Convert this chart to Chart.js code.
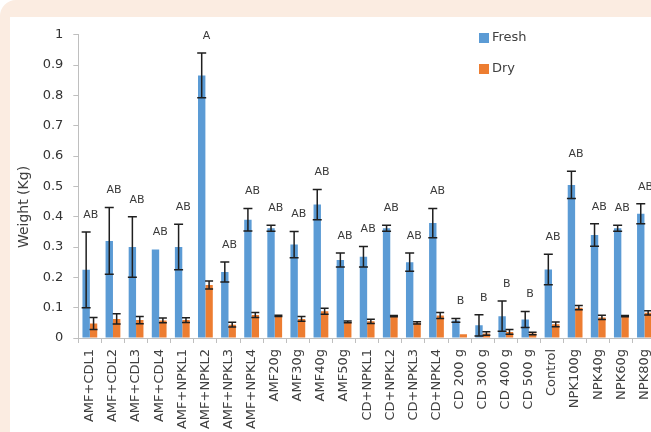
<!DOCTYPE html>
<html><head><meta charset="utf-8">
<script src="https://cdn.jsdelivr.net/npm/chart.js@4/dist/chart.umd.min.js"></script>
<style>
html,body{margin:0;padding:0;background:#fff;overflow:hidden;width:651px;height:432px;}
#frame{position:absolute;left:0;top:0;width:720px;height:500px;background:#fbece1;border-top-left-radius:16px;}
#wrap{position:absolute;left:10px;top:17px;width:660px;height:415px;background:#fff;}
canvas{display:block;}
</style></head><body>
<div id="frame"></div>
<div id="wrap"><canvas id="c" width="660" height="415"></canvas></div>
<script>
const categories = ["AMF+CDL1","AMF+CDL2","AMF+CDL3","AMF+CDL4","AMF+NPKL1","AMF+NPKL2","AMF+NPKL3","AMF+NPKL4","AMF20g","AMF30g","AMF40g","AMF50g","CD+NPKL1","CD+NPKL2","CD+NPKL3","CD+NPKL4","CD 200 g","CD 300 g","CD 400 g","CD 500 g","Control","NPK100g","NPK40g","NPK60g","NPK80g"];
const fresh    = [0.225,0.32,0.30,0.292,0.30,0.866,0.218,0.39,0.362,0.308,0.44,0.257,0.268,0.362,0.25,0.379,0.058,0.042,0.072,0.061,0.226,0.505,0.34,0.362,0.41];
const freshErr = [0.125,0.11,0.10,0,0.075,0.074,0.033,0.037,0.01,0.043,0.05,0.023,0.034,0.01,0.03,0.048,0.006,0.035,0.05,0.026,0.05,0.045,0.037,0.01,0.033];
const dry      = [0.048,0.063,0.059,0.058,0.059,0.175,0.044,0.076,0.073,0.063,0.088,0.053,0.055,0.072,0.05,0.074,0.012,0.015,0.02,0.015,0.045,0.1,0.068,0.072,0.083];
const dryErr   = [0.02,0.017,0.012,0.008,0.008,0.013,0.008,0.008,0.002,0.008,0.01,0.003,0.007,0.002,0.004,0.01,0,0.006,0.008,0.004,0.008,0.007,0.007,0.002,0.007];
const sigLetters = ["AB","AB","AB","AB","AB","A","AB","AB","AB","AB","AB","AB","AB","AB","AB","AB","B","B","B","B","AB","AB","AB","AB","AB"];
const seriesNames = ["Fresh","Dry"];
const yTitle = "Weight (Kg)";

const BLUE = '#5b9bd5', ORANGE = '#ed7d31', AXIS = '#bfbfbf', TXT = '#404040';
const FONT = '"DejaVu Sans"';

const overlay = {
  id: 'overlay',
  afterDatasetsDraw(chart) {
    const ctx = chart.ctx, ys = chart.scales.y;
    const errs = [freshErr, dryErr];
    const caps = [4.5, 4];
    ctx.save();
    ctx.strokeStyle = '#1f1f1f';
    ctx.lineWidth = 1.5;
    chart.data.datasets.forEach((ds, di) => {
      const meta = chart.getDatasetMeta(di);
      meta.data.forEach((bar, i) => {
        const v = ds.data[i], e = errs[di][i];
        if (!e) return;
        const x = bar.x, c = caps[di];
        const yt = ys.getPixelForValue(v + e), yb = ys.getPixelForValue(Math.max(0, v - e));
        ctx.beginPath();
        ctx.moveTo(x, yt); ctx.lineTo(x, yb);
        ctx.moveTo(x - c, yt); ctx.lineTo(x + c, yt);
        ctx.moveTo(x - c, yb); ctx.lineTo(x + c, yb);
        ctx.stroke();
      });
    });
    const m0 = chart.getDatasetMeta(0), m1 = chart.getDatasetMeta(1);
    ctx.font = '11px ' + FONT;
    ctx.fillStyle = '#3a3a3a';
    ctx.textAlign = 'center';
    ctx.textBaseline = 'middle';
    sigLetters.forEach((t, i) => {
      const cx = (m0.data[i].x + m1.data[i].x) / 2 + 1;
      const top = ys.getPixelForValue(fresh[i] + freshErr[i]);
      ctx.fillText(t, cx, top - 17);
    });
    ctx.restore();
  },
  afterDraw(chart) {
    const ctx = chart.ctx;
    ctx.save();
    // legend
    const cols = [BLUE, ORANGE];
    ctx.font = '13px ' + FONT;
    ctx.textAlign = 'left';
    ctx.textBaseline = 'middle';
    seriesNames.forEach((n, i) => {
      const yy = 21 + i * 31;
      ctx.fillStyle = cols[i];
      ctx.fillRect(469, yy - 5, 10, 10);
      ctx.fillStyle = TXT;
      ctx.fillText(n, 482, yy);
    });
    // y title
    ctx.translate(14, 190);
    ctx.rotate(-Math.PI / 2);
    ctx.font = '14px ' + FONT;
    ctx.textAlign = 'center';
    ctx.fillStyle = TXT;
    ctx.fillText(yTitle, 0, 0);
    ctx.restore();
  }
};

new Chart(document.getElementById('c'), {
  type: 'bar',
  data: {
    labels: categories,
    datasets: [
      { label: seriesNames[0], data: fresh, backgroundColor: BLUE, categoryPercentage: 0.64, barPercentage: 1 },
      { label: seriesNames[1], data: dry, backgroundColor: ORANGE, categoryPercentage: 0.64, barPercentage: 1 }
    ]
  },
  options: {
    responsive: false,
    animation: false,
    layout: { padding: { top: 8, right: 14, left: 0, bottom: 0 } },
    plugins: { legend: { display: false }, tooltip: { enabled: false } },
    scales: {
      x: {
        afterFit(s) { s.height = 94; },
        grid: { display: true, drawOnChartArea: false, drawTicks: true, tickLength: 5, color: AXIS, offset: true },
        border: { display: true, color: AXIS, width: 1 },
        ticks: { autoSkip: false, minRotation: 90, maxRotation: 90, padding: 6, color: TXT, font: { family: 'DejaVu Sans', size: 13 } }
      },
      y: {
        min: 0, max: 1,
        afterFit(s) { s.width = 68.3; },
        grid: { display: true, drawOnChartArea: false, drawTicks: true, tickLength: 5, color: AXIS },
        border: { display: true, color: AXIS, width: 1 },
        ticks: { stepSize: 0.1, padding: 10, color: '#333', font: { family: 'DejaVu Sans', size: 13 },
          callback: v => String(+v.toFixed(1)) }
      }
    }
  },
  plugins: [overlay]
});
</script>
</body></html>
